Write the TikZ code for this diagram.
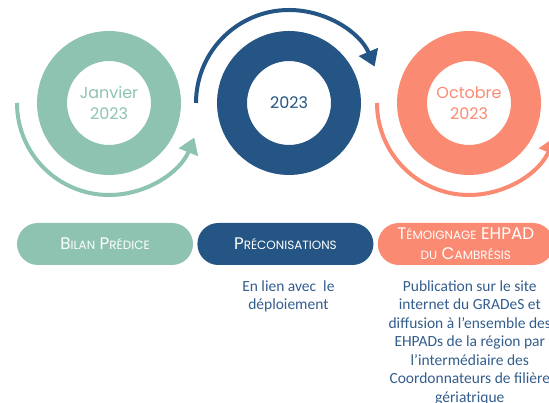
\documentclass[tikz,border=0pt]{standalone}
\usepackage{fontspec}
\setmainfont{Carlito}
\newfontfamily\gothic{Poppins}
\usetikzlibrary{positioning,arrows.meta}
\definecolor{sage}{HTML}{8DC3B0}
\definecolor{navy}{HTML}{245584}
\definecolor{salmon}{HTML}{FB8A72}
\definecolor{inkblue}{HTML}{335D8D}
\tikzset{
  ring/.style={circle,draw=#1,line width=30pt,minimum size=114pt,outer sep=15pt,text=#1,align=center,font=\gothic\fontsize{16}{21}\selectfont},
  pill/.style={fill=#1,rounded corners=21pt,minimum width=176pt,minimum height=42pt,inner sep=0pt,text=white,align=center,font=\gothic\fontsize{16.8}{20}\selectfont},
  note/.style={text=inkblue,align=center,inner sep=0pt,font=\fontsize{15.5}{18.5}\selectfont},
  loop/.style={draw=#1,line width=4pt,-{Triangle[length=16pt,width=20pt]}}
}
\newcommand\smc[2]{#1{\fontsize{12}{12}\selectfont #2}}

\begin{document}
\begin{tikzpicture}[x=1pt,y=1pt,node distance=36pt]
\useasboundingbox (0,0) rectangle (549,403);
\clip (0,0) rectangle (549,403);

% the three dates
\node[ring=sage] (jan) at (109,300) {Janvier\\2023};
\node[ring=navy,right=of jan] (year) {2023};
\node[ring=salmon,right=of year] (oct) {Octobre\\2023};

\draw[loop=sage] ([shift={(180:92)}]jan.center) arc[start angle=180,end angle=338,radius=92];
\draw[loop=navy] ([shift={(180:93)}]year.center) arc[start angle=180,end angle=23,radius=93];
\draw[loop=salmon] ([shift={(180:92)}]oct.center) arc[start angle=180,end angle=338,radius=92];

% the steps
\node[pill=sage] (bilan) at (105,159) {\smc{B}{ILAN} \smc{P}{RÉDICE}};
\node[pill=navy,right=4pt of bilan] (preco) {\smc{P}{RÉCONISATIONS}};
\node[pill=salmon,right=4pt of preco] (temoin) {\smc{T}{ÉMOIGNAGE} EHPAD\\{\fontsize{12}{12}\selectfont DU} \smc{C}{AMBRÉSIS}};

\node[note,below=15pt of preco,xshift=3pt] (lien) {En lien avec~ le\\déploiement};
\node[note,below=15pt of temoin,xshift=4pt] (publi) {Publication sur le site\\internet du GRADeS et\\diffusion à l’ensemble des\\EHPADs de la région par\\l’intermédiaire des\\Coordonnateurs de filière\\gériatrique};
\end{tikzpicture}
\end{document}
